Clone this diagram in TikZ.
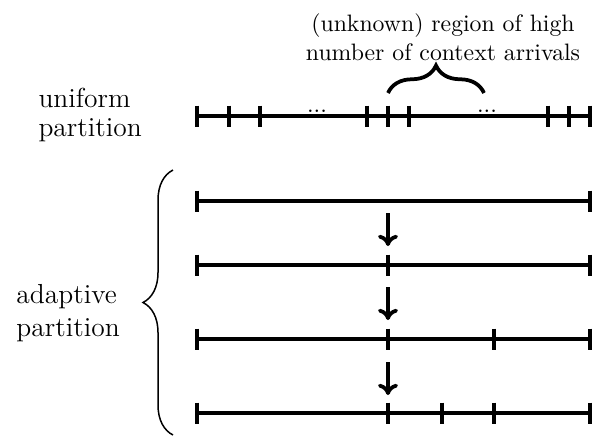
\documentclass[tikz,border=0pt]{standalone}
\usetikzlibrary{decorations.pathreplacing,arrows.meta}
\begin{document}
\begin{tikzpicture}[x=0.4pt,y=-0.4pt,
  seg/.style={line width=1.5pt},
  tick/.style={line width=1.5pt},
  stepar/.style={line width=1.5pt,-{To[length=4.5pt,width=8pt,line width=1.5pt]}},
  lbl/.style={inner sep=0pt,align=left,anchor=west,font=\fontsize{11}{11.6}\selectfont},
  toplbl/.style={inner sep=0pt,align=center,anchor=north,font=\fontsize{9.5}{11.6}\selectfont},
  dotsn/.style={inner sep=0pt,anchor=base,font=\fontsize{9.5}{11.6}\selectfont}]
\useasboundingbox (0,0) rectangle (604,436);
% texts
\node[toplbl] (title) at (443,13) {(unknown) region of high\\number of context arrivals};
\node[lbl] (uni) at (38,115) {uniform\\partition};
\node[lbl,font=\fontsize{11}{13.2}\selectfont] (ada) at (16,313) {adaptive\\partition};
% uniform partition
\coordinate (u0) at (197,116);
\coordinate (u1) at (590,116);
\draw[seg] (u0) -- (u1);
\foreach \x in {197,229,260,367,388,409,548,569,590}
  \draw[tick] (\x,105.5) -- (\x,126.5);
\node[dotsn] (d1) at (317,112) {...};
\node[dotsn] (d2) at (487,112) {...};
% top brace
\coordinate (b0) at (388,93);
\coordinate (b1) at (484,93);
\draw[line width=1.5pt,decorate,decoration={brace,amplitude=11pt}] (b0) -- (b1);
% adaptive partition
\foreach \y/\ticks in {201/{197,590},265/{197,388,590},339/{197,388,494,590},413/{197,388,442,494,590}}{
  \draw[seg] (197,\y) -- (590,\y);
  \foreach \x in \ticks \draw[tick] (\x,\y-10.5) -- (\x,\y+10.5);
}
% arrows
\coordinate (a1s) at (388,213); \coordinate (a1e) at (388,246);
\coordinate (a2s) at (388,287); \coordinate (a2e) at (388,320);
\coordinate (a3s) at (388,362); \coordinate (a3e) at (388,395);
\draw[stepar] (a1s) -- (a1e);
\draw[stepar] (a2s) -- (a2e);
\draw[stepar] (a3s) -- (a3e);
% left brace
\coordinate (l0) at (173,435);
\coordinate (l1) at (173,170);
\draw[line width=0.6pt,decorate,decoration={brace,amplitude=12pt}] (l0) -- (l1);
\end{tikzpicture}
\end{document}
